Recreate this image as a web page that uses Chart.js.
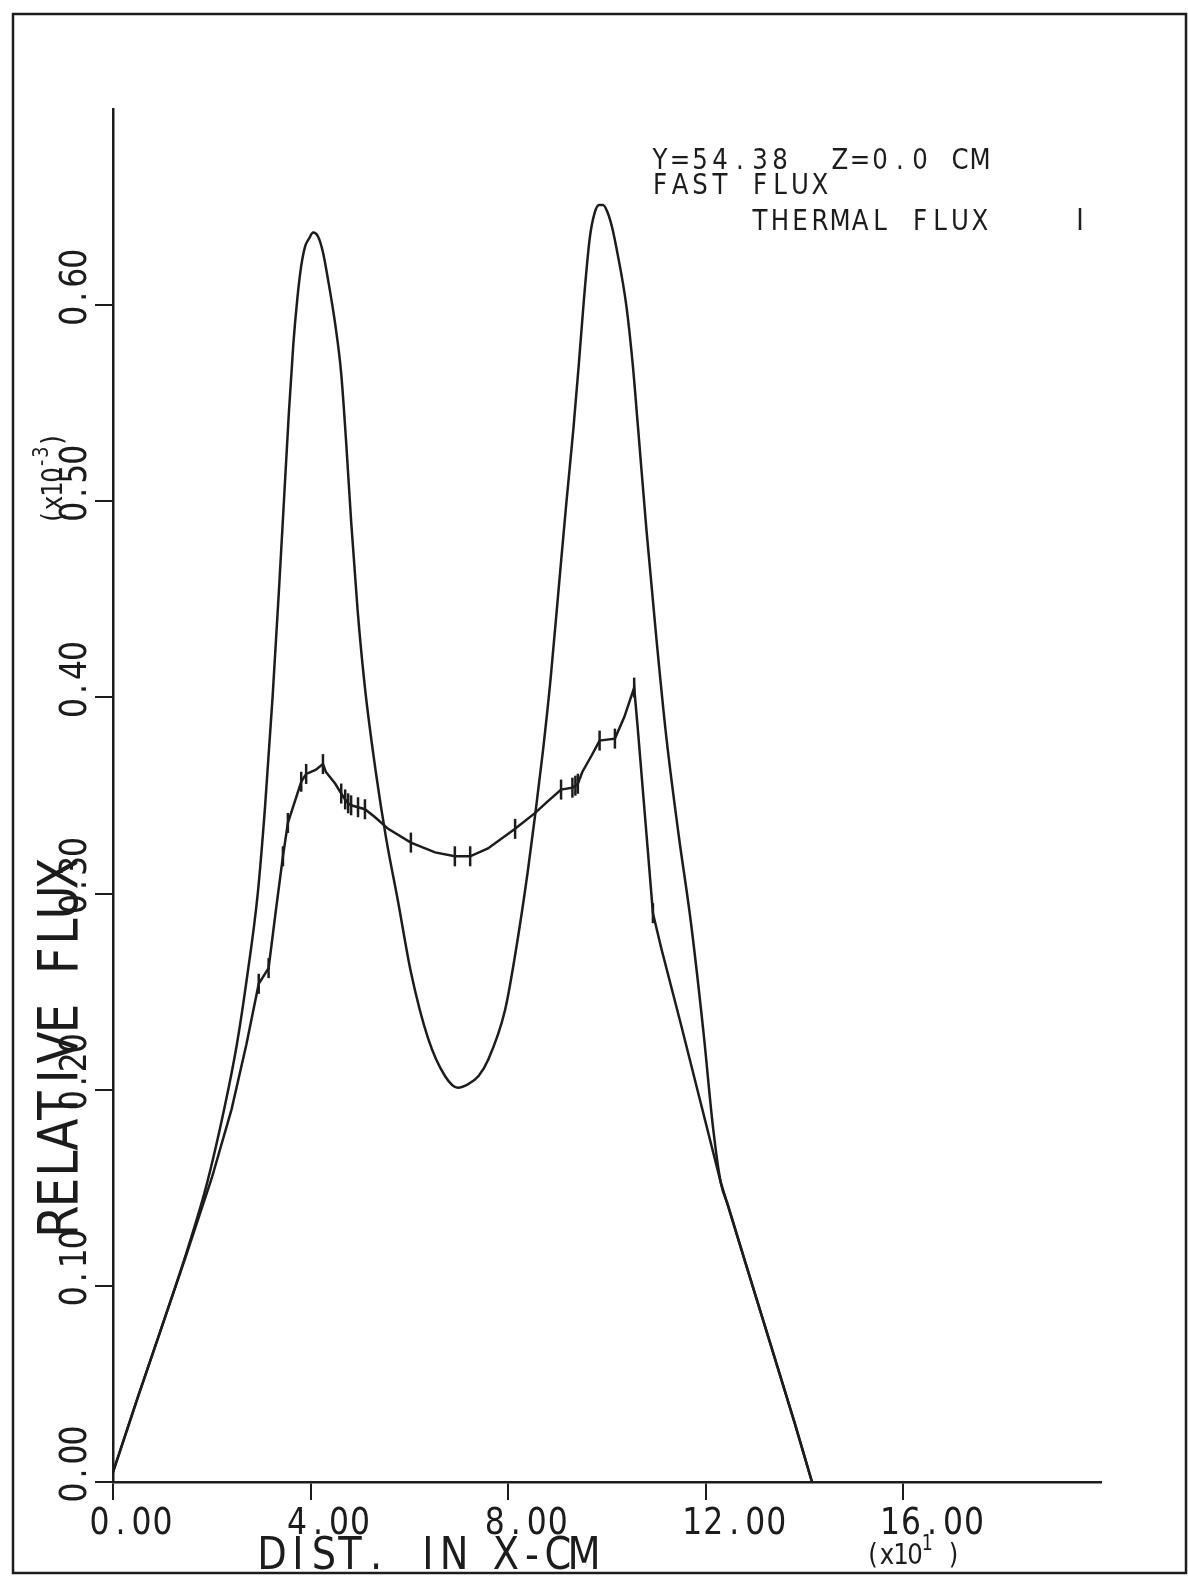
<!DOCTYPE html>
<html>
<head>
<meta charset="utf-8">
<script src="https://cdn.jsdelivr.net/npm/chart.js@4.4.0/dist/chart.umd.min.js"></script>
<style>
    html, body { margin: 0; padding: 0; background: #ffffff; }
    canvas { display: block; }
</style>
</head>
<body>
<canvas id="fluxChart" width="1188" height="1576"></canvas>
<script>
// axis ticks (x in units of 10 cm, y in units of 1e-3)
const xTicks = [0, 4, 8, 12, 16];
const yTicks = [0, 0.1, 0.2, 0.3, 0.4, 0.5, 0.6];

// fast flux, smooth curve
const fastX = [0.00, 0.50, 1.00, 1.50, 1.90, 2.25, 2.50, 2.70, 2.93, 3.08, 3.23, 3.36, 3.46, 3.56, 3.65, 3.73, 3.81, 3.89, 3.97, 4.05,
    4.15, 4.25, 4.36, 4.50, 4.62, 4.72, 4.82, 4.95, 5.10, 5.32, 5.53, 5.77, 6.03, 6.38, 6.72, 6.98, 7.20, 7.40, 7.59, 7.94,
    8.20, 8.40, 8.54, 8.70, 8.86, 9.02, 9.18, 9.32, 9.43, 9.53, 9.65, 9.75, 9.84, 9.92, 10.00, 10.10, 10.20, 10.39, 10.52, 10.63,
    10.80, 11.00, 11.20, 11.45, 11.70, 11.95, 12.15, 12.30, 12.45, 12.80, 13.30, 13.80, 14.15];
const fastY = [0.005, 0.043, 0.080, 0.118, 0.152, 0.190, 0.222, 0.255, 0.300, 0.345, 0.400, 0.455, 0.500, 0.545, 0.580, 0.603, 0.620, 0.630, 0.634, 0.637,
    0.635, 0.627, 0.612, 0.590, 0.565, 0.530, 0.490, 0.445, 0.405, 0.362, 0.328, 0.296, 0.260, 0.226, 0.207, 0.201, 0.203, 0.207, 0.215, 0.241,
    0.278, 0.312, 0.339, 0.372, 0.410, 0.455, 0.500, 0.537, 0.570, 0.602, 0.634, 0.647, 0.651, 0.651, 0.648, 0.640, 0.628, 0.600, 0.570, 0.537,
    0.485, 0.430, 0.380, 0.330, 0.285, 0.230, 0.180, 0.153, 0.141, 0.112, 0.071, 0.030, 0.000];

// thermal flux, curve with "|" markers
const thermalX = [0.00, 0.50, 1.00, 1.50, 2.00, 2.40, 2.70, 2.95, 3.15, 3.30, 3.44, 3.54, 3.81, 3.91, 4.10, 4.25, 4.31, 4.50, 4.62, 4.70,
    4.76, 4.82, 4.96, 5.10, 5.30, 5.57, 6.03, 6.52, 6.92, 7.23, 7.59, 8.14, 8.54, 8.80, 9.07, 9.30, 9.36, 9.41, 9.50, 9.68,
    9.85, 10.16, 10.35, 10.55, 10.62, 10.80, 10.93, 11.10, 11.50, 11.90, 12.30, 12.80, 13.30, 13.80, 14.15];
const thermalY = [0.005, 0.043, 0.080, 0.117, 0.155, 0.190, 0.223, 0.254, 0.262, 0.292, 0.319, 0.336, 0.357, 0.361, 0.363, 0.366, 0.362, 0.356, 0.351, 0.348,
    0.346, 0.345, 0.344, 0.343, 0.339, 0.333, 0.326, 0.321, 0.319, 0.319, 0.323, 0.333, 0.341, 0.347, 0.353, 0.354, 0.355, 0.356, 0.362, 0.370,
    0.378, 0.379, 0.390, 0.405, 0.385, 0.330, 0.290, 0.272, 0.233, 0.193, 0.153, 0.112, 0.071, 0.030, 0.000];
const thermalMarkX = [2.95, 3.15, 3.44, 3.54, 3.81, 3.91, 4.25, 4.62, 4.70, 4.76, 4.82, 4.96, 5.10, 6.03, 6.92, 7.23, 8.14,
    9.07, 9.30, 9.36, 9.41, 9.85, 10.16, 10.55, 10.93];

const INK = '#1c1c1c';
const FONT = '"DejaVu Sans"';
const SQUEEZE = 0.85;

function toPoints(xs, ys) {
    return xs.map((x, i) => ({ x: x, y: ys[i] }));
}

// plotter style lettering: fixed cell width per character
function drawPlotText(ctx, str, x, y, cap, adv, angle) {
    ctx.save();
    ctx.translate(x, y);
    ctx.rotate(angle || 0);
    ctx.font = (cap / 0.73).toFixed(1) + 'px ' + FONT;
    ctx.textAlign = 'center';
    ctx.textBaseline = 'alphabetic';
    for (let i = 0; i < str.length; i++) {
        ctx.save();
        ctx.translate(adv * (i + 0.5), 0);
        ctx.scale(SQUEEZE, 1);
        ctx.fillText(str[i], 0, 0);
        ctx.restore();
    }
    ctx.restore();
    return adv * str.length;
}

// "(x10" + superscript + rest
function drawPowerLabel(ctx, sup, tail, x, y, angle) {
    const cos = Math.cos(angle), sin = Math.sin(angle);
    const at = (dx, dy) => [x + dx * cos - dy * sin, y + dx * sin + dy * cos];
    let pos = drawPlotText(ctx, '(x10', x, y, 21, 14, angle);
    let p = at(pos, -14);
    pos += drawPlotText(ctx, sup, p[0], p[1], 15, 10.5, angle);
    p = at(pos, 0);
    drawPlotText(ctx, tail, p[0], p[1], 21, 14, angle);
}

const plotterText = {
    id: 'plotterText',
    afterDraw(chart) {
        const ctx = chart.ctx;
        const xs = chart.scales.x;
        const ys = chart.scales.y;
        ctx.save();
        ctx.fillStyle = INK;
        ctx.strokeStyle = INK;

        // sheet frame
        ctx.lineWidth = 2.5;
        ctx.strokeRect(13, 14, 1173, 1559);

        xTicks.forEach(v => {
            drawPlotText(ctx, v.toFixed(2), xs.getPixelForValue(v) - 24, 1534, 27, 21, 0);
        });
        yTicks.forEach(v => {
            drawPlotText(ctx, v.toFixed(2), 86, ys.getPixelForValue(v) + 20, 27, 19, -Math.PI / 2);
        });

        drawPlotText(ctx, 'DIST. IN X-CM', 259, 1569, 33, 26, 0);
        drawPowerLabel(ctx, '1', ' )', 866, 1564, 0);

        drawPlotText(ctx, 'RELATIVE FLUX', 77, 1236, 40, 29, -Math.PI / 2);
        drawPowerLabel(ctx, '-3', ')', 62, 524, -Math.PI / 2);

        drawPlotText(ctx, 'Y=54.38  Z=0.0 CM', 650, 169, 21, 20, 0);
        drawPlotText(ctx, 'FAST FLUX', 650, 194, 21, 20, 0);
        drawPlotText(ctx, '     THERMAL FLUX', 650, 230, 21, 20, 0);
        ctx.lineWidth = 2.5;
        ctx.beginPath();
        ctx.moveTo(1080, 208);
        ctx.lineTo(1080, 230);
        ctx.stroke();
        ctx.restore();
    }
};

new Chart(document.getElementById('fluxChart'), {
    type: 'scatter',
    data: {
        datasets: [
            {
                label: 'FAST FLUX',
                data: toPoints(fastX, fastY),
                showLine: true,
                borderColor: INK,
                borderWidth: 2.5,
                pointRadius: 0,
                cubicInterpolationMode: 'monotone'
            },
            {
                label: 'THERMAL FLUX',
                data: toPoints(thermalX, thermalY),
                showLine: true,
                borderColor: INK,
                borderWidth: 2.5,
                tension: 0,
                pointStyle: 'line',
                rotation: 90,
                pointBorderWidth: 2.5,
                pointBorderColor: INK,
                pointRadius: function(context) {
                    return thermalMarkX.includes(thermalX[context.dataIndex]) ? 10 : 0;
                }
            }
        ]
    },
    options: {
        responsive: false,
        animation: false,
        devicePixelRatio: 1,
        layout: {
            padding: { top: 109, right: 87, left: 0, bottom: 0 }
        },
        plugins: {
            legend: { display: false },
            tooltip: { enabled: false }
        },
        scales: {
            x: {
                type: 'linear',
                min: 0,
                max: 20,
                afterBuildTicks: function(scale) {
                    scale.ticks = xTicks.map(v => ({ value: v }));
                },
                afterFit: function(scale) {
                    scale.height = 94;
                },
                ticks: { display: false },
                grid: {
                    drawOnChartArea: false,
                    drawTicks: true,
                    tickLength: 18,
                    color: INK,
                    lineWidth: 2
                },
                border: { display: true, color: INK, width: 2.5 }
            },
            y: {
                type: 'linear',
                min: 0,
                max: 0.7,
                afterBuildTicks: function(scale) {
                    scale.ticks = yTicks.map(v => ({ value: v }));
                },
                afterFit: function(scale) {
                    scale.width = 113;
                },
                ticks: { display: false },
                grid: {
                    drawOnChartArea: false,
                    drawTicks: true,
                    tickLength: 18,
                    color: INK,
                    lineWidth: 2
                },
                border: { display: true, color: INK, width: 2.5 }
            }
        }
    },
    plugins: [plotterText]
});
</script>
</body>
</html>
